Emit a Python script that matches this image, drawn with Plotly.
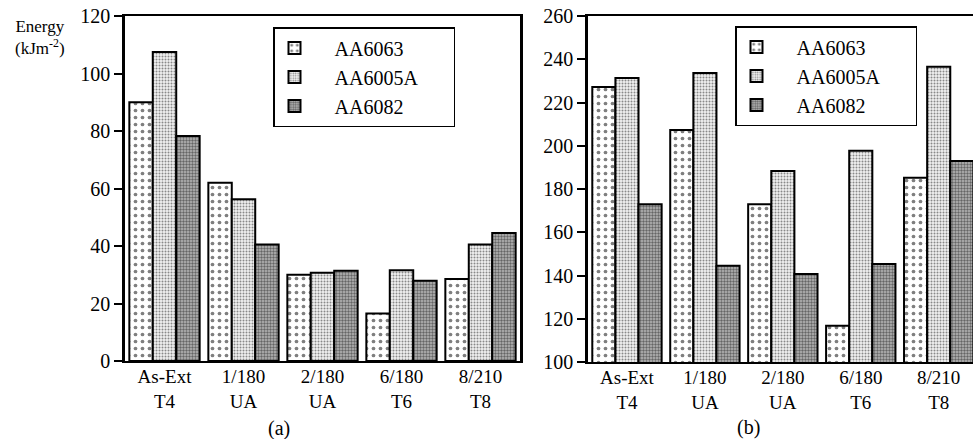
import plotly.graph_objects as go

categories = ["As-Ext<br>T4", "1/180<br>UA", "2/180<br>UA", "6/180<br>T6", "8/210<br>T8"]
series_names = ["AA6063", "AA6005A", "AA6082"]

# Panel (a) energy values (kJ m^-2)
a_6063 = [90, 62, 30, 16.5, 28.5]
a_6005A = [107.5, 56.3, 30.7, 31.6, 40.5]
a_6082 = [78.3, 40.5, 31.4, 27.9, 44.5]

# Panel (b) energy values
b_6063 = [227.2, 207.3, 173, 116.8, 185.2]
b_6005A = [231.3, 233.6, 188.3, 197.7, 236.5]
b_6082 = [173, 144.5, 140.7, 145.3, 193]

a_values = [a_6063, a_6005A, a_6082]
b_values = [b_6063, b_6005A, b_6082]

patterns = [
    dict(shape=".", fgcolor="black", bgcolor="white", size=7, solidity=0.22),
    dict(shape=".", fgcolor="#222222", bgcolor="#f0f0f0", size=3, solidity=0.35),
    dict(shape=".", fgcolor="#111111", bgcolor="#b8b8b8", size=3, solidity=0.5),
]

FONT = "Liberation Serif"
fig = go.Figure()

def label(n):
    return "\u2002\u2002" + n + "\u2002\u2002\u2002"

for name, vals, pat in zip(series_names, a_values, patterns):
    fig.add_trace(go.Bar(
        x=categories, y=vals, name=label(name), xaxis="x", yaxis="y", legend="legend",
        marker=dict(color=pat["bgcolor"], pattern=pat, line=dict(color="black", width=2)),
    ))
for name, vals, pat in zip(series_names, b_values, patterns):
    fig.add_trace(go.Bar(
        x=categories, y=vals, name=label(name), xaxis="x2", yaxis="y2", legend="legend2",
        marker=dict(color=pat["bgcolor"], pattern=pat, line=dict(color="black", width=2)),
    ))

W, H = 973, 439
def px_x(p):
    return p / W
def px_y(p):
    return (H - p) / H

axis_common = dict(showgrid=False, zeroline=False, linecolor="black", automargin=False)

legend_common = dict(xanchor="left", yanchor="top", bordercolor="black", borderwidth=1.5,
                     bgcolor="white", font=dict(family=FONT, size=20, color="black"),
                     tracegroupgap=0, itemwidth=30)

xfont = dict(family=FONT, size=19, color="black")
yfont = dict(family=FONT, size=20, color="black")

fig.update_layout(
    width=W, height=H,
    margin=dict(l=0, r=0, t=0, b=0, autoexpand=False),
    paper_bgcolor="white", plot_bgcolor="white",
    barmode="group", bargap=0.11, bargroupgap=0,
    font=dict(family=FONT, color="black"),
    xaxis=dict(domain=[px_x(125), px_x(520)], anchor="y", range=[-0.5, 4.5],
               showline=True, linewidth=2, mirror=True, ticks="", tickfont=xfont,
               ticklabelstandoff=-3, **axis_common),
    yaxis=dict(domain=[px_y(361), px_y(16)], anchor="x", range=[0, 120], dtick=20,
               showline=True, linewidth=2.5, mirror=True, ticks="outside", ticklen=8,
               tickwidth=1.5, tickcolor="black", tickfont=yfont, **axis_common),
    xaxis2=dict(domain=[px_x(588), 1.0], anchor="y2", range=[-0.5, 4.44],
                showline=True, linewidth=2, mirror=True, ticks="", tickfont=xfont,
                ticklabelstandoff=-3, **axis_common),
    yaxis2=dict(domain=[px_y(362), px_y(16)], anchor="x2", range=[100, 260], dtick=20,
                showline=True, linewidth=2.5, mirror=False, ticks="outside", ticklen=8,
                tickwidth=1.5, tickcolor="black", tickfont=yfont, **axis_common),
    legend=dict(x=px_x(273), y=px_y(27), **legend_common),
    legend2=dict(x=px_x(735), y=px_y(26), **legend_common),
    showlegend=True,
    annotations=[
        dict(text="Energy<br>(kJm<sup>-2</sup>)", x=px_x(40), y=px_y(37), xref="paper", yref="paper",
             xanchor="center", yanchor="middle",
             showarrow=False, font=dict(family=FONT, size=17, color="black"), align="center"),
        dict(text="(a)", x=px_x(279), y=px_y(428), xref="paper", yref="paper",
             xanchor="center", yanchor="middle",
             showarrow=False, font=dict(family=FONT, size=20, color="black")),
        dict(text="(b)", x=px_x(748), y=px_y(427), xref="paper", yref="paper",
             xanchor="center", yanchor="middle",
             showarrow=False, font=dict(family=FONT, size=20, color="black")),
    ],
)

fig.write_html("out.html", config={"displayModeBar": False},
               post_script="document.body.style.margin='0';document.body.style.overflow='hidden';")
